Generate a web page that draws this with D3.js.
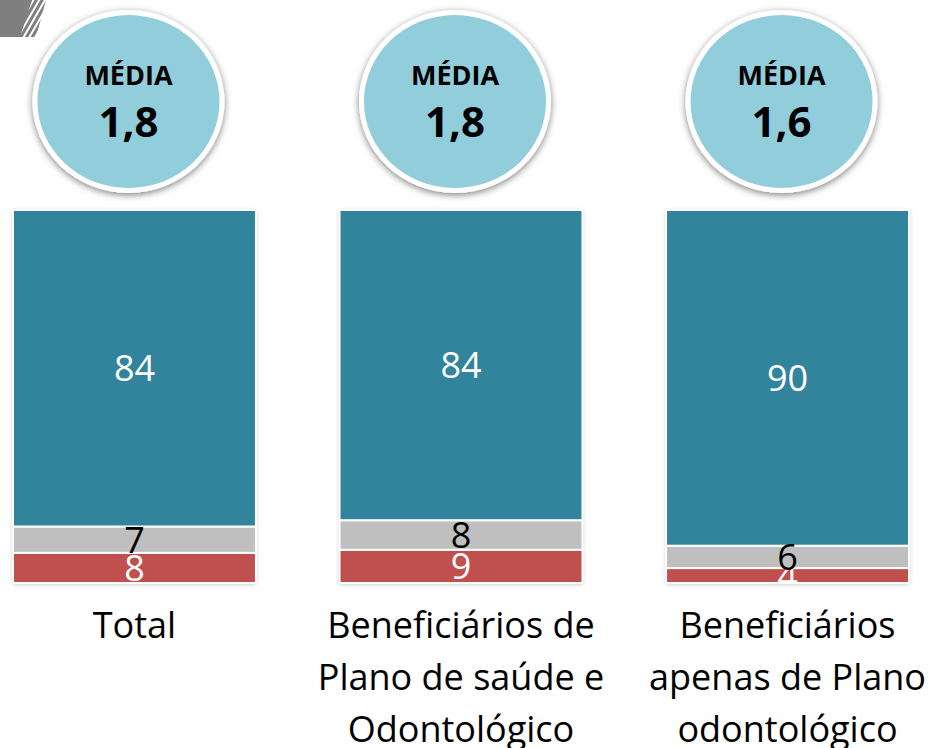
<!DOCTYPE html>
<html>
<head>
<meta charset="utf-8">
<script src="https://cdn.jsdelivr.net/npm/d3@7"></script>
<style>
  html, body { margin: 0; padding: 0; background: #fff; }
  svg { display: block; }
</style>
</head>
<body>
<svg id="chart" width="930" height="748"></svg>
<script>
// ---- data ----
const categories = ["Total", "Beneficiários de Plano de saúde e Odontológico", "Beneficiários apenas de Plano odontológico"];
const categoryLines = [
  ["Total"],
  ["Beneficiários de", "Plano de saúde e", "Odontológico"],
  ["Beneficiários", "apenas de Plano", "odontológico"]
];
const topValues = [84, 84, 90];     // teal segment
const middleValues = [7, 8, 6];     // gray segment
const bottomValues = [8, 9, 4];     // red segment
const meanLabel = "MÉDIA";
const meanValues = [1.8, 1.8, 1.6];

// ---- build table ----
const keys = ["bottom", "middle", "top"];
const colors = { top: "#31849B", middle: "#BFBFBF", bottom: "#C0504D" };
const labelColors = { top: "#ffffff", middle: "#000000", bottom: "#ffffff" };
const table = categories.map((c, i) => ({
  cat: c, top: topValues[i], middle: middleValues[i], bottom: bottomValues[i]
}));

const svg = d3.select("#chart");

const x = d3.scaleBand().domain(categories).range([13, 909]).paddingInner(0.256).paddingOuter(0);
const y = d3.scaleLinear().domain([0, 1]).range([583, 210]);

const defs = svg.append("defs");
const barShadow = defs.append("filter").attr("id", "barShadow")
  .attr("x", "-10%").attr("y", "-10%").attr("width", "120%").attr("height", "120%");
barShadow.append("feDropShadow").attr("dx", 0).attr("dy", 1).attr("stdDeviation", 2)
  .attr("flood-color", "#000").attr("flood-opacity", 0.28);
const circShadow = defs.append("filter").attr("id", "circShadow")
  .attr("x", "-20%").attr("y", "-20%").attr("width", "140%").attr("height", "140%");
circShadow.append("feDropShadow").attr("dx", 0).attr("dy", 2).attr("stdDeviation", 3.5)
  .attr("flood-color", "#000").attr("flood-opacity", 0.5);

// hatch pattern (top-left decoration)
const pat = defs.append("pattern").attr("id", "hatch").attr("patternUnits", "userSpaceOnUse")
  .attr("width", 5).attr("height", 5).attr("patternTransform", "rotate(30)");
pat.append("rect").attr("width", 3).attr("height", 5).attr("fill", "#7F7F7F");
const deco = svg.append("g");
deco.append("polygon").attr("points", "0,0 46,0 36,37 0,37").attr("fill", "url(#hatch)");
deco.append("polygon").attr("points", "0,0 32,0 20,37 0,37").attr("fill", "#7F7F7F");

// ---- stacked bars (normalized) ----
const series = d3.stack().keys(keys).offset(d3.stackOffsetExpand)(table);

const gBars = svg.append("g");
gBars.selectAll("rect.back").data(table).join("rect")
  .attr("class", "back")
  .attr("x", d => x(d.cat)).attr("y", y(1))
  .attr("width", x.bandwidth()).attr("height", y(0) - y(1))
  .attr("fill", "#fff").attr("filter", "url(#barShadow)");

series.forEach(s => {
  gBars.append("g").selectAll("rect").data(s).join("rect")
    .attr("x", d => x(d.data.cat))
    .attr("y", d => y(d[1]))
    .attr("width", x.bandwidth())
    .attr("height", d => y(d[0]) - y(d[1]))
    .attr("fill", colors[s.key])
    .attr("stroke", "#fff").attr("stroke-width", 2);
});

// clip paths for bottom labels
const bottomSeries = series.find(s => s.key === "bottom");
bottomSeries.forEach((d, i) => {
  defs.append("clipPath").attr("id", "clipB" + i).append("rect")
    .attr("x", x(d.data.cat)).attr("y", y(d[1]))
    .attr("width", x.bandwidth()).attr("height", y(d[0]) - y(d[1]));
});

// labels: bottom first, then middle, then top
const labelOrder = ["bottom", "middle", "top"];
labelOrder.forEach(k => {
  const s = series.find(t => t.key === k);
  s.forEach((d, i) => {
    const t = svg.append("text")
      .attr("x", x(d.data.cat) + x.bandwidth() / 2)
      .attr("y", (y(d[0]) + y(d[1])) / 2 + 13)
      .attr("text-anchor", "middle")
      .attr("font-family", "'Open Sans', sans-serif")
      .attr("font-size", 36)
      .attr("fill", labelColors[k])
      .text(d.data[k]);
    if (k === "bottom") t.attr("clip-path", "url(#clipB" + i + ")");
  });
});

// ---- mean circles ----
const fmt = v => d3.format(".1f")(v).replace(".", ",");
const gC = svg.append("g");
categories.forEach((c, i) => {
  const cx = x(c) + x.bandwidth() / 2 - 6;
  const cy = 101.5;
  gC.append("ellipse").attr("cx", cx).attr("cy", cy).attr("rx", 96).attr("ry", 91.5)
    .attr("fill", "#fff").attr("filter", "url(#circShadow)");
  gC.append("ellipse").attr("cx", cx).attr("cy", cy).attr("rx", 91).attr("ry", 86.5)
    .attr("fill", "#92CDDC");
  gC.append("text").attr("x", cx).attr("y", 85).attr("text-anchor", "middle")
    .attr("font-family", "'Open Sans', sans-serif").attr("font-weight", "bold")
    .attr("font-size", 27).attr("fill", "#000").text(meanLabel);
  gC.append("text").attr("x", cx).attr("y", 137).attr("text-anchor", "middle")
    .attr("font-family", "'Open Sans', sans-serif").attr("font-weight", "bold")
    .attr("font-size", 42).attr("fill", "#000").text(fmt(meanValues[i]));
});

// ---- category labels ----
categories.forEach((c, i) => {
  const t = svg.append("text")
    .attr("x", x(c) + x.bandwidth() / 2)
    .attr("y", 638)
    .attr("text-anchor", "middle")
    .attr("font-family", "'Open Sans', sans-serif")
    .attr("font-size", 36)
    .attr("fill", "#000");
  categoryLines[i].forEach((line, j) => {
    t.append("tspan").attr("x", x(c) + x.bandwidth() / 2).attr("y", 638 + j * 52).text(line);
  });
});
</script>
</body>
</html>
